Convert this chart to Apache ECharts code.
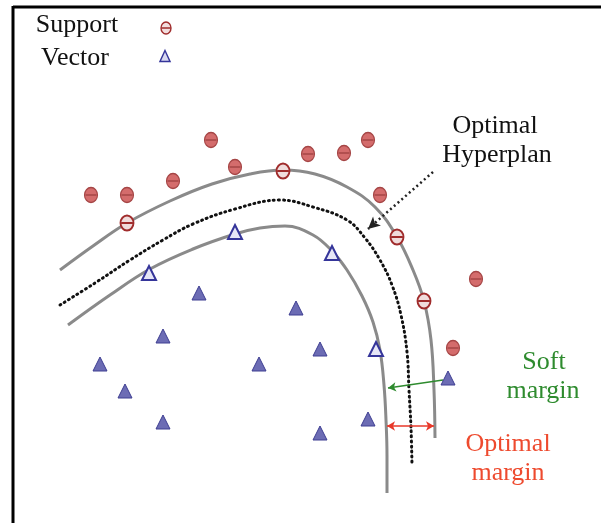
<!DOCTYPE html>
<html><head><meta charset="utf-8">
<script src="https://cdn.jsdelivr.net/npm/echarts@6/dist/echarts.min.js"></script>
<style>html,body{margin:0;padding:0;background:#fff}#c{width:601px;height:523px}</style>
</head><body><div id="c"></div>
<script>
// Class A (circles): filled points and support vectors lying on margin
const circlePoints = [[91,195],[127,195],[173,181],[211,140],[235,167],[308,154],[344,153],[368,140],[380,195],[476,279],[453,348]];
const circleSupport = [[127,223],[283,171],[397,237],[424,301]];
// Class B (triangles)
const trianglePoints = [[100,364],[125,391],[163,422],[163,336],[199,293],[259,364],[296,308],[320,349],[320,433],[368,419],[448,378]];
const triangleSupport = [[149,273],[235,232],[332,253],[376,349]];
// Curves
const outerMargin = [[60,270],[93,246],[127,223],[170,201],[212,184],[250,174],[283,170],[315,174],[347,187],[375,207],[397,237],[413,270],[424,301],[431,340],[434,390],[435,438]];
const hyperplane = [[60,305],[95,283],[130,260],[163,240],[193,224],[235,209],[280,200],[313,207],[347,220],[365,238],[380,260],[392,285],[401,315],[407,352],[409,390],[411,428],[412,465]];
const innerMargin = [[68,325],[110,295],[150,269],[193,249],[235,234],[260,228],[285,226],[313,235],[332,251],[347,270],[362,296],[373,322],[380,350],[384,385],[386,420],[387,456],[387,493]];
// Arrows
const pointerArrow = [[433,172],[368,229]];
const softArrow = [[443,380],[388,388]];
const optimalArrow = [[387,426],[434,426]];
// Legend symbols
const legendCircle = [[166,28]];
const legendTriangle = [[165,56]];

const chart = echarts.init(document.getElementById('c'));
const serif = 'Liberation Serif, Times New Roman, serif';
function txt(t, x, y, color) {
  return {type:'text', x:x, y:y, style:{text:t, font:'26px ' + serif, fill:color, textAlign:'center', textVerticalAlign:'middle'}};
}
const circlePath = 'path://M50,0A50,50,0,1,1,49.9,0ZM8,50L92,50';
const curveBase = {type:'line', smooth:0.4, symbol:'none', silent:true, z:1};
chart.setOption({
  animation:false,
  backgroundColor:'#fff',
  grid:{left:0,right:0,top:0,bottom:0},
  xAxis:{type:'value',min:0,max:601,show:false},
  yAxis:{type:'value',min:0,max:523,inverse:true,show:false},
  series:[
    Object.assign({}, curveBase, {data:outerMargin, lineStyle:{color:'#8a8a8a', width:3}}),
    Object.assign({}, curveBase, {data:innerMargin, lineStyle:{color:'#8a8a8a', width:3}}),
    Object.assign({}, curveBase, {data:hyperplane, lineStyle:{color:'#111', width:3, type:[1,4], cap:'round'},
      markLine:{silent:true, symbol:['none','arrow'], symbolSize:[9,12], label:{show:false},
        lineStyle:{color:'#222', width:2.5, type:[2,3]},
        data:[[{coord:pointerArrow[0]},{coord:pointerArrow[1]}]]}}),
    {type:'line', data:[], markLine:{silent:true, symbol:['none','arrow'], symbolSize:[7,8], label:{show:false},
        lineStyle:{color:'#2e8b2e', width:1.5, type:'solid'},
        data:[[{coord:softArrow[0]},{coord:softArrow[1]}]]}},
    {type:'line', data:[], markLine:{silent:true, symbol:['arrow','arrow'], symbolSize:[7,8], label:{show:false},
        lineStyle:{color:'#e8392a', width:1.5, type:'solid'},
        data:[[{coord:optimalArrow[0]},{coord:optimalArrow[1]}]]}},
    {type:'scatter', data:circlePoints, symbol:circlePath, symbolSize:[13,15], z:5,
      itemStyle:{color:'#d46c6c', borderColor:'#a54545', borderWidth:1.2, opacity:1}},
    {type:'scatter', data:circleSupport, symbol:circlePath, symbolSize:[13,15], z:5,
      itemStyle:{color:'#f0dcdc', borderColor:'#a02c2c', borderWidth:2, opacity:1}},
    {type:'scatter', data:trianglePoints, symbol:'triangle', symbolSize:[14,14], z:5,
      itemStyle:{color:'#6c6cb4', borderColor:'#3e3e92', borderWidth:1, opacity:1}},
    {type:'scatter', data:triangleSupport, symbol:'triangle', symbolSize:[14,14], z:5,
      itemStyle:{color:'#e6e6f6', borderColor:'#35359a', borderWidth:2, opacity:1}},
    {type:'scatter', data:legendCircle, symbol:circlePath, symbolSize:[10,12], z:5,
      itemStyle:{color:'#f2dede', borderColor:'#a02c2c', borderWidth:1.5, opacity:1}},
    {type:'scatter', data:legendTriangle, symbol:'triangle', symbolSize:[10,11], z:5,
      itemStyle:{color:'#d8d8f0', borderColor:'#35359a', borderWidth:1.5, opacity:1}}
  ],
  graphic:[
    {type:'line', shape:{x1:13,y1:7,x2:601,y2:7}, style:{stroke:'#000', lineWidth:3}},
    {type:'line', shape:{x1:13,y1:6,x2:13,y2:523}, style:{stroke:'#000', lineWidth:3}},
    txt('Support', 77, 25, '#111'),
    txt('Vector', 75, 58, '#111'),
    txt('Optimal', 495, 126, '#111'),
    txt('Hyperplan', 497, 155, '#111'),
    txt('Soft', 544, 362, '#2e8b2e'),
    txt('margin', 543, 391, '#2e8b2e'),
    txt('Optimal', 508, 444, '#ee4a2e'),
    txt('margin', 508, 473, '#ee4a2e')
  ]
});
</script></body></html>
